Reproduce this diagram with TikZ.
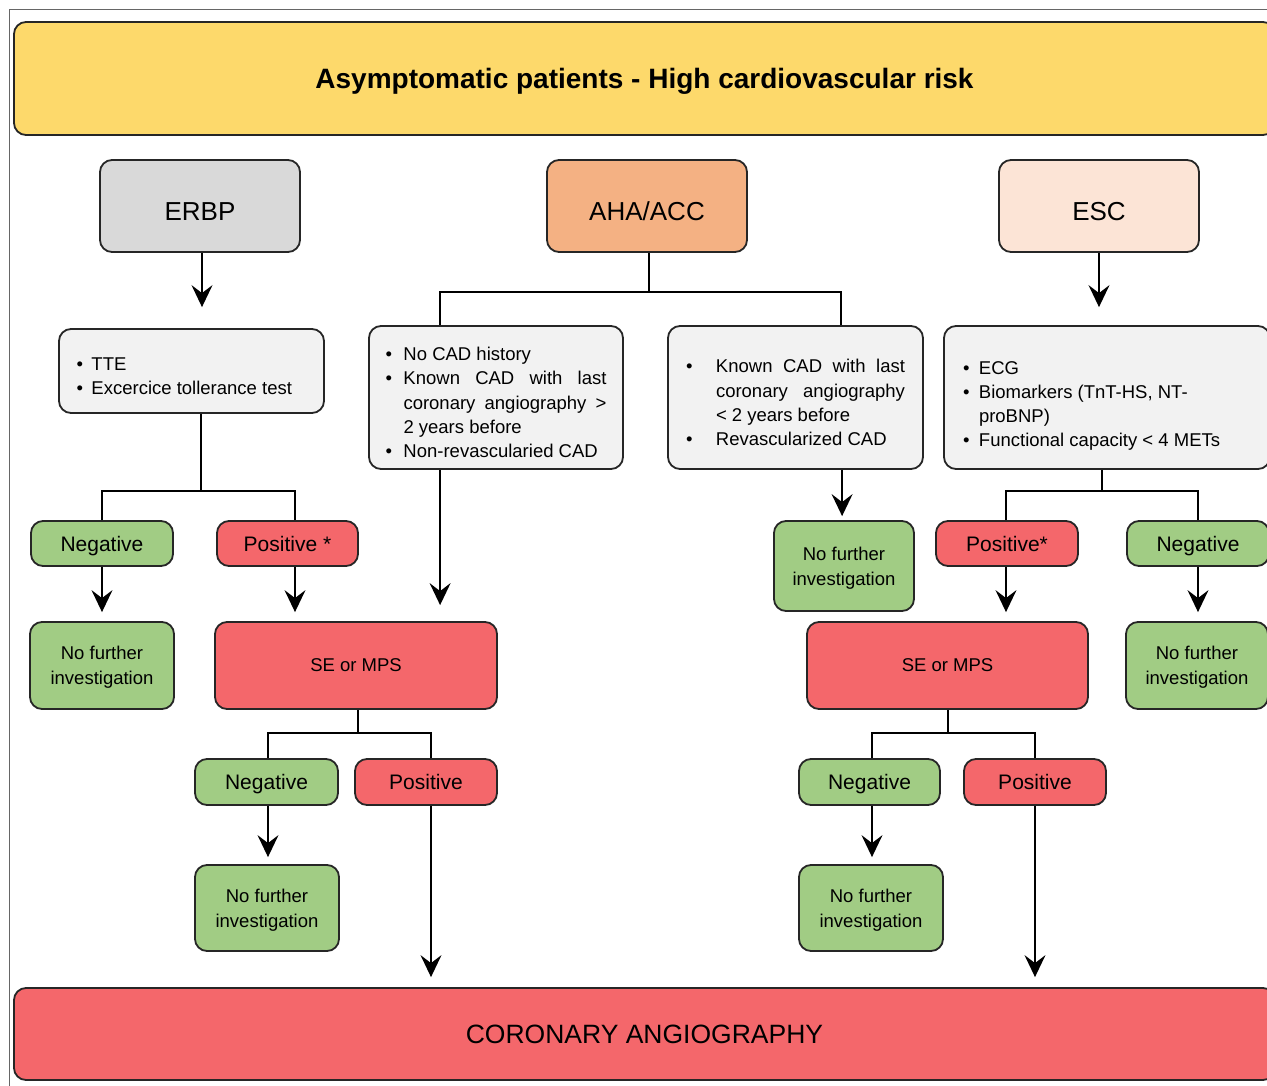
\documentclass[tikz,border=0pt]{standalone}
\usepackage{fontspec}
\setmainfont{Liberation Sans}
\usetikzlibrary{arrows.meta,calc}
\definecolor{ttl}{HTML}{FDD96B}
\definecolor{ahaC}{HTML}{F4B183}
\definecolor{escC}{HTML}{FCE4D6}
\definecolor{erbpC}{HTML}{D9D9D9}
\definecolor{lboxC}{HTML}{F2F2F2}
\definecolor{grn}{HTML}{A1CC84}
\definecolor{rd}{HTML}{F4676B}
\newcommand\bitem[2]{\par\noindent\hangindent=#1\hangafter=1\makebox[#1][l]{\textbullet}#2}
\tikzset{
  bx/.style={draw=black!85, line width=1.8pt, rounded corners=12pt, inner sep=0pt, align=center, text depth=0pt},
  arr/.style={-{Stealth[length=22pt,width=21pt,inset=8pt]}, line width=1.7pt},
  ln/.style={line width=1.7pt},
  fs/.style={font=\fontsize{18.5}{25}\selectfont},
  fneg/.style={font=\fontsize{21}{25}\selectfont},
  fbig/.style={font=\fontsize{26}{30}\selectfont, text height=28.6pt},
  gbox/.style={bx, fill=grn},
  rbox/.style={bx, fill=rd},
}
\begin{document}
\begin{tikzpicture}[x=1pt,y=-1pt]
\useasboundingbox (0,0) rectangle (1267,1086);
\fill[white] (0,0) rectangle (1267,1086);
\draw[line width=1pt, black!60] (9,1090) -- (9,10) -- (1270,10);
% title
\node[bx, fill=ttl, minimum width=1261pt, minimum height=113pt, font=\fontsize{28}{32}\selectfont\bfseries] (title) at (644.5,78.5) {Asymptomatic patients - High cardiovascular risk};
% guidelines
\node[bx, fill=erbpC, minimum width=200pt, minimum height=92pt, fbig] (erbp) at (200,206) {ERBP};
\node[bx, fill=ahaC, minimum width=200pt, minimum height=92pt, fbig] (aha) at (647,206) {AHA/ACC};
\node[bx, fill=escC, minimum width=200pt, minimum height=92pt, fbig] (esc) at (1099,206) {ESC};
% bullet boxes
\node[bx, fill=lboxC, minimum width=265pt, minimum height=84pt, fs] (tte) at (191.5,371)
  {\parbox[b]{230pt}{\raggedright\fontsize{18.5}{24.3}\selectfont\vspace*{10pt}%
   \bitem{15pt}{TTE}\bitem{15pt}{Excercice tollerance test}}};
\node[bx, fill=lboxC, minimum width=254pt, minimum height=143pt, fs] (ahal) at (496,397.5)
  {\parbox[b]{221pt}{\fontsize{18.5}{24.3}\selectfont\tolerance=9999\hyphenpenalty=10000\vspace*{10pt}%
   \bitem{18pt}{No CAD history}
   \bitem{18pt}{Known CAD with last\linebreak coronary angiography >\linebreak 2 years before}
   \bitem{18pt}{Non-revascularied CAD}}};
\node[bx, fill=lboxC, minimum width=255pt, minimum height=143pt, fs] (ahar) at (795.5,397.5)
  {\parbox[b]{219pt}{\fontsize{18.5}{24.3}\selectfont\tolerance=9999\hyphenpenalty=10000\vspace*{10pt}%
   \bitem{30pt}{Known CAD with last\linebreak coronary angiography\linebreak < 2 years before}
   \bitem{30pt}{Revascularized CAD}}};
\node[bx, fill=lboxC, minimum width=326pt, minimum height=143pt, fs] (escb) at (1107,397.5)
  {\parbox[b]{288pt}{\raggedright\fontsize{18.5}{24.3}\selectfont\hyphenpenalty=10000\vspace*{13pt}%
   \bitem{16pt}{ECG}
   \bitem{16pt}{Biomarkers (TnT-HS, NT-\newline proBNP)}
   \bitem{16pt}{Functional capacity < 4 METs}}};
% ERBP branch
\node[gbox, minimum width=142pt, minimum height=45pt, fneg] (neg1) at (102,543.5) {Negative};
\node[rbox, minimum width=141pt, minimum height=45pt, fneg] (pos1) at (287.5,543.5) {Positive *};
\node[gbox, minimum width=144pt, minimum height=87pt, fs] (nf1) at (102,665.5) {No further\\investigation};
\node[rbox, minimum width=282pt, minimum height=87pt, fs] (se1) at (356,665.5) {SE or MPS};
\node[gbox, minimum width=143pt, minimum height=46pt, fneg] (neg2) at (266.5,782) {Negative};
\node[rbox, minimum width=142pt, minimum height=46pt, fneg] (pos2) at (426,782) {Positive};
\node[gbox, minimum width=144pt, minimum height=86pt, fs] (nf2) at (267,908) {No further\\investigation};
% right side
\node[gbox, minimum width=140pt, minimum height=90pt, fs] (nf3) at (844,566) {No further\\investigation};
\node[rbox, minimum width=142pt, minimum height=45pt, fneg] (pos3) at (1007,543.5) {Positive*};
\node[gbox, minimum width=142pt, minimum height=45pt, fneg] (neg3) at (1198,543.5) {Negative};
\node[rbox, minimum width=281pt, minimum height=87pt, fs] (se2) at (947.5,665.5) {SE or MPS};
\node[gbox, minimum width=142pt, minimum height=87pt, fs] (nf4) at (1197,665.5) {No further\\investigation};
\node[gbox, minimum width=141pt, minimum height=46pt, fneg] (neg4) at (869.5,782) {Negative};
\node[rbox, minimum width=142pt, minimum height=46pt, fneg] (pos4) at (1035,782) {Positive};
\node[gbox, minimum width=144pt, minimum height=86pt, fs] (nf5) at (871,908) {No further\\investigation};
% bottom
\node[rbox, minimum width=1261pt, minimum height=92pt, font=\fontsize{26.5}{30}\selectfont] (cor) at (644.5,1034) {CORONARY ANGIOGRAPHY};
% connectors
\coordinate (erbpb) at ($(erbp.south)+(2,0)$);
\draw[arr, shorten >=21pt] (erbpb) -- (erbpb |- tte.north);
\draw[arr, shorten >=18pt] (esc.south) -- (esc.south |- escb.north);
% AHA split
\coordinate (ahab) at ($(aha.south)+(2,0)$);
\coordinate (ahaj) at ($(ahab)+(0,39)$);
\coordinate (ahalt) at ($(ahal.north west)+(72,0)$);
\coordinate (ahart) at ($(ahar.north west)+(174,0)$);
\draw[ln] (ahab) -- (ahaj);
\draw[ln] (ahalt) |- (ahaj) -| (ahart);
\coordinate (ahalb) at ($(ahal.south west)+(72,0)$);
\coordinate (aharb) at ($(ahar.south west)+(175,0)$);
\draw[arr, shorten >=16pt] (ahalb) -- (ahalb |- se1.north);
\draw[arr, shorten >=4pt] (aharb) -- (aharb |- nf3.north);
% TTE split
\coordinate (tteb) at ($(tte.south west)+(143,0)$);
\coordinate (ttej) at ($(tteb)+(0,77)$);
\coordinate (p1t) at ($(pos1.north)+(7.5,0)$);
\coordinate (p1b) at ($(pos1.south)+(7.5,0)$);
\draw[ln] (tteb) -- (ttej);
\draw[ln] (neg1.north) |- (ttej) -| (p1t);
\draw[arr, shorten >=9pt] (neg1.south) -- (neg1.south |- nf1.north);
\draw[arr, shorten >=9pt] (p1b) -- (p1b |- se1.north);
% SE1 split
\coordinate (se1b) at ($(se1.south)+(2,0)$);
\coordinate (se1j) at ($(se1b)+(0,23)$);
\coordinate (n2t) at ($(neg2.north)+(1.5,0)$);
\coordinate (n2b) at ($(neg2.south)+(1.5,0)$);
\coordinate (p2t) at ($(pos2.north)+(5,0)$);
\coordinate (p2b) at ($(pos2.south)+(5,0)$);
\draw[ln] (se1b) -- (se1j);
\draw[ln] (n2t) |- (se1j) -| (p2t);
\draw[arr, shorten >=7pt] (n2b) -- (n2b |- nf2.north);
\draw[arr, shorten >=10pt] (p2b) -- (p2b |- cor.north);
% ESC split
\coordinate (escbb) at ($(escb.south)+(-5,0)$);
\coordinate (escj) at ($(escbb)+(0,21)$);
\coordinate (p3t) at ($(pos3.north)+(-1,0)$);
\coordinate (p3b) at ($(pos3.south)+(-1,0)$);
\draw[ln] (escbb) -- (escj);
\draw[ln] (p3t) |- (escj) -| (neg3.north);
\draw[arr, shorten >=9pt] (p3b) -- (p3b |- se2.north);
\draw[arr, shorten >=9pt] (neg3.south) -- (neg3.south |- nf4.north);
% SE2 split
\coordinate (se2b) at ($(se2.south)+(0.5,0)$);
\coordinate (se2j) at ($(se2b)+(0,23)$);
\coordinate (n4t) at ($(neg4.north)+(2.5,0)$);
\coordinate (n4b) at ($(neg4.south)+(2.5,0)$);
\draw[ln] (se2b) -- (se2j);
\draw[ln] (n4t) |- (se2j) -| (pos4.north);
\draw[arr, shorten >=7pt] (n4b) -- (n4b |- nf5.north);
\draw[arr, shorten >=10pt] (pos4.south) -- (pos4.south |- cor.north);
\end{tikzpicture}
\end{document}
